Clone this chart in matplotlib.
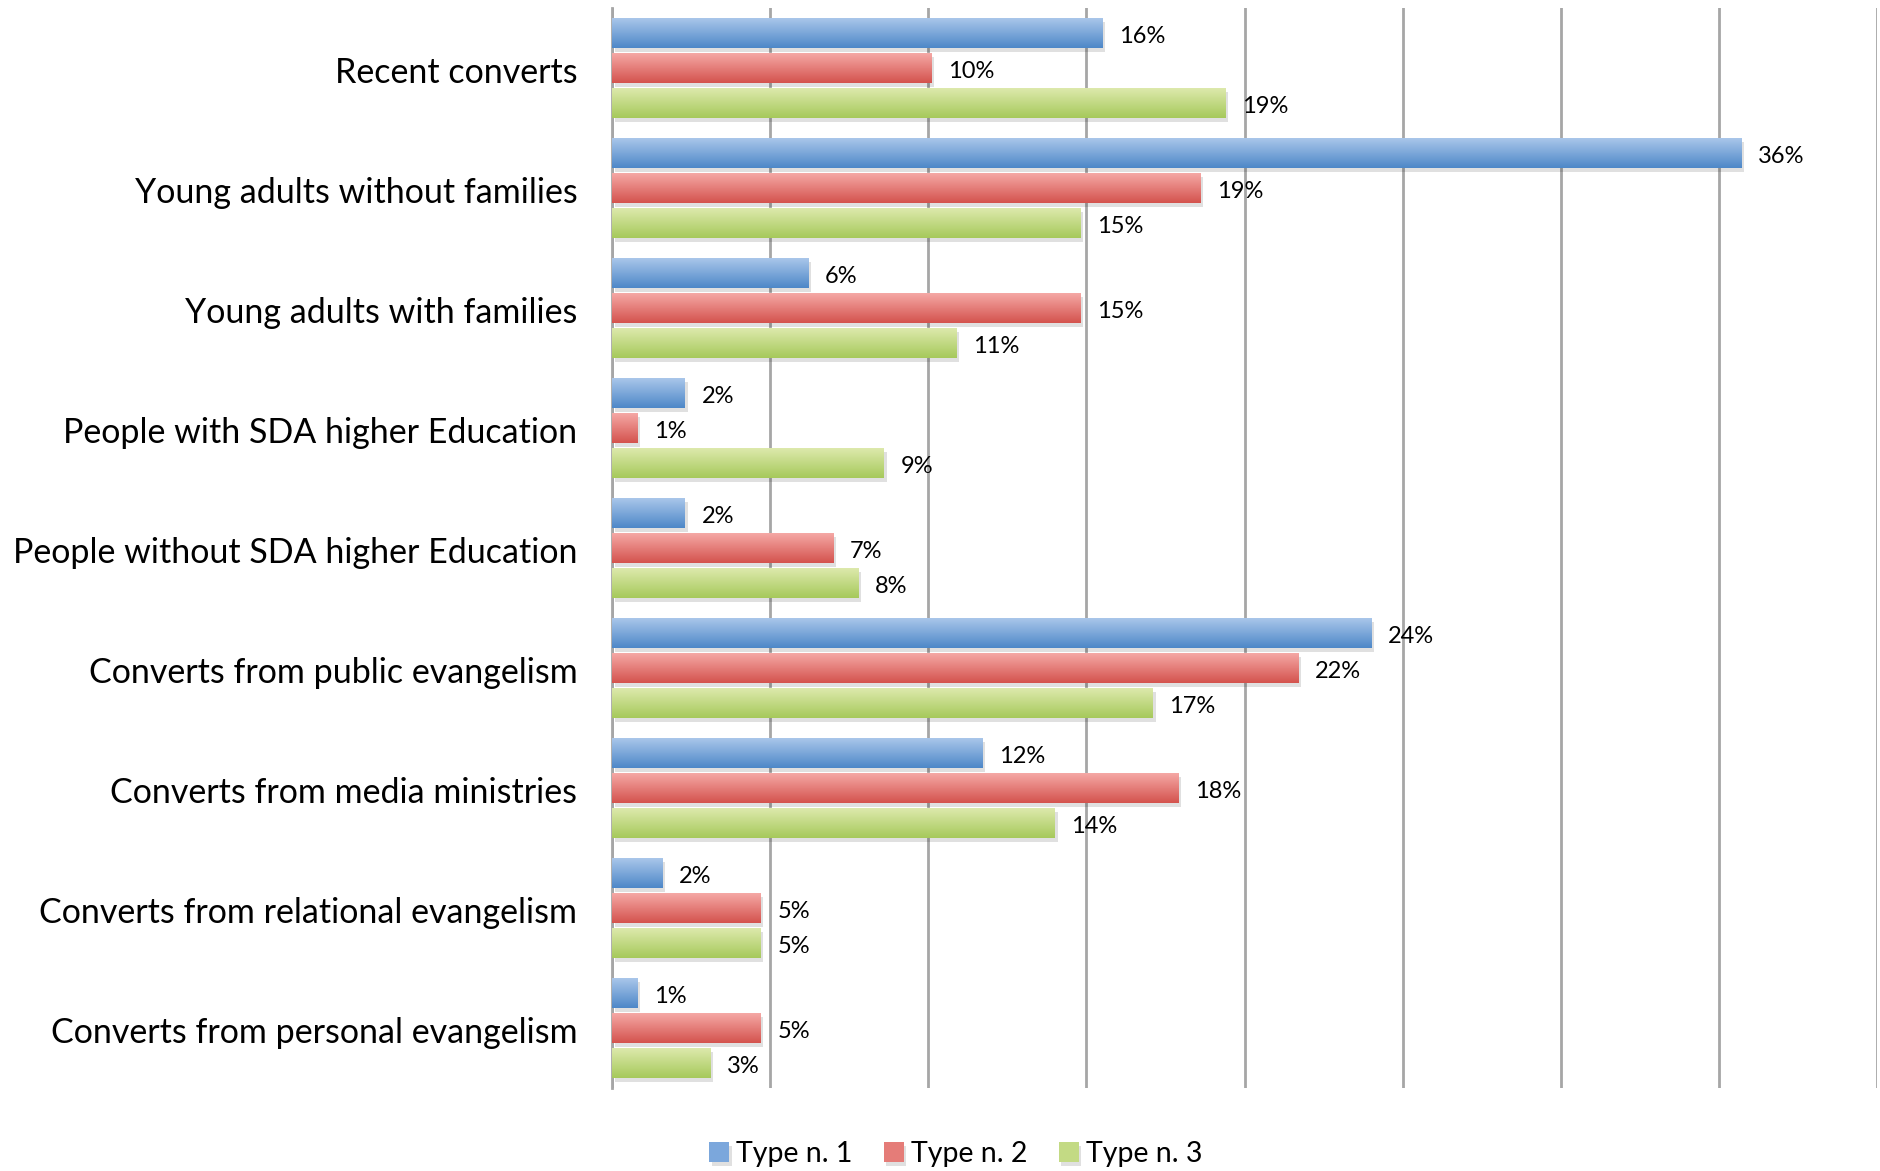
import matplotlib
matplotlib.use('Agg')
import matplotlib.pyplot as plt
import matplotlib.patheffects as pe
from matplotlib.colors import LinearSegmentedColormap
import numpy as np

categories = ['Recent converts', 'Young adults without families', 'Young adults with families',
              'People with SDA higher Education', 'People without SDA higher Education',
              'Converts from public evangelism', 'Converts from media ministries',
              'Converts from relational evangelism', 'Converts from personal evangelism']
series_names = ['Type n. 1', 'Type n. 2', 'Type n. 3']
type1 = [15.5, 35.7, 6.2, 2.3, 2.3, 24.0, 11.7, 1.6, 0.8]
type2 = [10.1, 18.6, 14.8, 0.8, 7.0, 21.7, 17.9, 4.7, 4.7]
type3 = [19.4, 14.8, 10.9, 8.6, 7.8, 17.1, 14.0, 4.7, 3.1]

# (top colour, bottom colour) of each bar gradient
gradients = [('#a9c6ea', '#4e88c8'), ('#f5a8a5', '#d4534e'), ('#dde9ac', '#a6c95b')]
mid_colors = ['#7ba7dc', '#e57c78', '#c3da84']

FONT = ['Lato', 'DejaVu Sans']
plt.rcParams['font.family'] = FONT

fig = plt.figure(figsize=(18.81, 11.71), dpi=100)
ax = fig.add_axes([612 / 1881, 1 - 1088 / 1171, 1265 / 1881, 1080 / 1171])

y = np.arange(len(categories))
offsets = [-0.29, 0.0, 0.29]
height = 0.25

for vals, off, (c_top, c_bot), mid, name in zip([type1, type2, type3], offsets, gradients,
                                                mid_colors, series_names):
    bars = ax.barh(y + off, vals, height=height, color=mid, label=name, zorder=3)
    cmap = LinearSegmentedColormap.from_list('g', [c_top, c_bot])
    grad = np.linspace(0, 1, 64).reshape(-1, 1)
    for bar, v in zip(bars, vals):
        bar.set_path_effects([pe.SimplePatchShadow(offset=(2, -3), alpha=0.12, shadow_rgbFace='black'),
                              pe.Normal()])
        bx, by = bar.get_x(), bar.get_y()
        im = ax.imshow(grad, extent=[bx, bx + bar.get_width(), by + height, by],
                       aspect='auto', cmap=cmap, zorder=4, interpolation='bilinear')
        im.set_clip_path(bar)
        ax.annotate(f'{v:.0f}%', xy=(v, by + height / 2 + 0.03), xytext=(12, 0),
                    textcoords='offset points', ha='left', va='center',
                    fontsize=17, color='black', zorder=5)

ax.set_xlim(0, 40)
ax.set_ylim(len(categories) - 0.5, -0.5)
ax.set_xticks(np.arange(0, 41, 5))
ax.set_xticklabels([])
ax.tick_params(axis='x', length=0)
ax.grid(axis='x', color='#a6a6a6', linewidth=2, zorder=0)
ax.set_axisbelow(True)

ax.set_yticks(y + 0.02)
ax.set_yticklabels(categories, fontsize=24.5)
ax.tick_params(axis='y', length=0, pad=25)

for side in ['top', 'right', 'bottom']:
    ax.spines[side].set_visible(False)
ax.spines['left'].set_color('#a6a6a6')
ax.spines['left'].set_linewidth(2)

handles, labels = ax.get_legend_handles_labels()
fig.legend(handles, labels, loc='center', bbox_to_anchor=(0.508, 1 - 1154 / 1171), ncol=3,
           frameon=False, fontsize=20.5, handlelength=0.7, handleheight=0.7,
           handletextpad=0.25, columnspacing=1.1)

fig.savefig('out.png', dpi=100)
